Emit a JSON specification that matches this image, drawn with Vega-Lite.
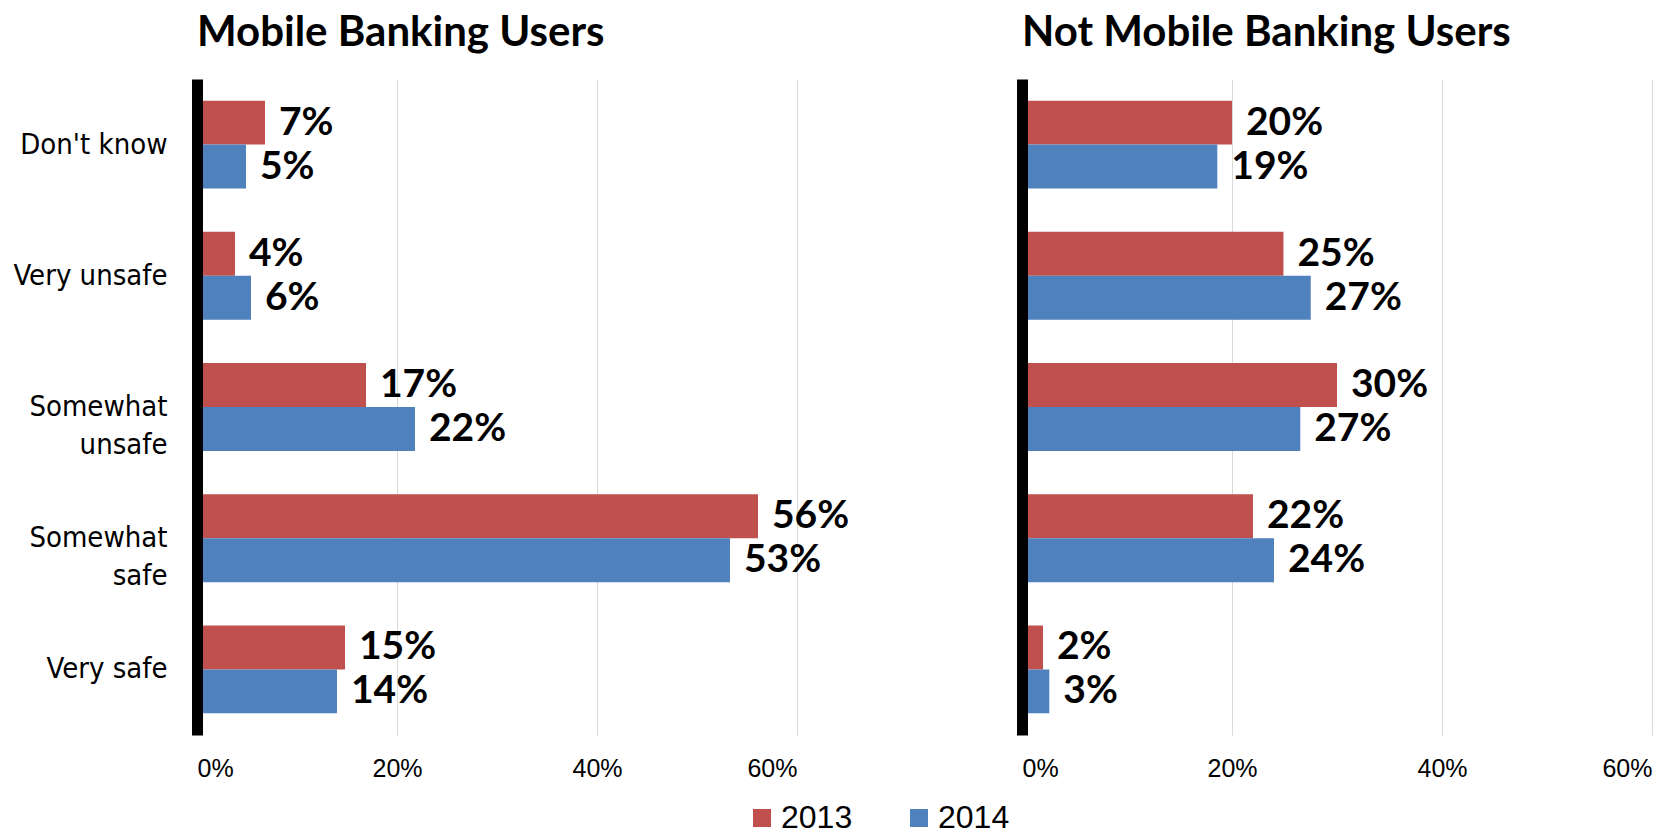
{
  "$schema": "https://vega.github.io/schema/vega-lite/v6.json",
  "background": "white",
  "padding": {"left": 13, "top": 12, "right": 3, "bottom": 0},
  "datasets": {
    "survey": [
      {"group": "Mobile Banking Users", "category": "Don't know", "year": "2013", "value": 0.068, "label": "7%"},
      {"group": "Mobile Banking Users", "category": "Don't know", "year": "2014", "value": 0.049, "label": "5%"},
      {"group": "Mobile Banking Users", "category": "Very unsafe", "year": "2013", "value": 0.038, "label": "4%"},
      {"group": "Mobile Banking Users", "category": "Very unsafe", "year": "2014", "value": 0.054, "label": "6%"},
      {"group": "Mobile Banking Users", "category": "Somewhat unsafe", "year": "2013", "value": 0.169, "label": "17%"},
      {"group": "Mobile Banking Users", "category": "Somewhat unsafe", "year": "2014", "value": 0.218, "label": "22%"},
      {"group": "Mobile Banking Users", "category": "Somewhat safe", "year": "2013", "value": 0.561, "label": "56%"},
      {"group": "Mobile Banking Users", "category": "Somewhat safe", "year": "2014", "value": 0.533, "label": "53%"},
      {"group": "Mobile Banking Users", "category": "Very safe", "year": "2013", "value": 0.148, "label": "15%"},
      {"group": "Mobile Banking Users", "category": "Very safe", "year": "2014", "value": 0.140, "label": "14%"},
      {"group": "Not Mobile Banking Users", "category": "Don't know", "year": "2013", "value": 0.200, "label": "20%"},
      {"group": "Not Mobile Banking Users", "category": "Don't know", "year": "2014", "value": 0.186, "label": "19%"},
      {"group": "Not Mobile Banking Users", "category": "Very unsafe", "year": "2013", "value": 0.249, "label": "25%"},
      {"group": "Not Mobile Banking Users", "category": "Very unsafe", "year": "2014", "value": 0.275, "label": "27%"},
      {"group": "Not Mobile Banking Users", "category": "Somewhat unsafe", "year": "2013", "value": 0.300, "label": "30%"},
      {"group": "Not Mobile Banking Users", "category": "Somewhat unsafe", "year": "2014", "value": 0.265, "label": "27%"},
      {"group": "Not Mobile Banking Users", "category": "Somewhat safe", "year": "2013", "value": 0.220, "label": "22%"},
      {"group": "Not Mobile Banking Users", "category": "Somewhat safe", "year": "2014", "value": 0.240, "label": "24%"},
      {"group": "Not Mobile Banking Users", "category": "Very safe", "year": "2013", "value": 0.020, "label": "2%"},
      {"group": "Not Mobile Banking Users", "category": "Very safe", "year": "2014", "value": 0.026, "label": "3%"}
    ]
  },
  "data": {"name": "survey"},
  "bounds": "flush",
  "spacing": 225,
  "hconcat": [
    {
      "title": {"text": "Mobile Banking Users"},
      "width": 600,
      "height": 656,
      "transform": [{"filter": "datum.group == 'Mobile Banking Users'"}],
      "encoding": {
        "y": {
          "field": "category", "type": "nominal",
          "sort": ["Don't know", "Very unsafe", "Somewhat unsafe", "Somewhat safe", "Very safe"],
          "scale": {"paddingInner": 0.33, "paddingOuter": 0.165},
          "title": null,
          "axis": {
            "labelExpr": "datum.label == 'Somewhat unsafe' ? ['Somewhat', 'unsafe'] : datum.label == 'Somewhat safe' ? ['Somewhat', 'safe'] : datum.label",
            "labelFont": "DejaVu Sans Condensed",
            "labelFontSize": 29,
            "labelLineHeight": 38,
            "labelPadding": 30,
            "labelColor": "#000000",
            "labelLimit": 300,
            "ticks": false,
            "tickSize": 0,
            "domain": true,
            "domainColor": "#000000",
            "domainWidth": 11,
            "zindex": 1
          }
        },
        "yOffset": {"field": "year", "type": "nominal", "sort": ["2013", "2014"]},
        "x": {
          "field": "value", "type": "quantitative",
          "scale": {"domain": [0, 0.6]},
          "title": null,
          "axis": {"values": [0, 0.2, 0.4, 0.6], "format": ".0%"}
        }
      },
      "layer": [
        {
          "mark": {"type": "bar"},
          "encoding": {
            "color": {
              "field": "year", "type": "nominal",
              "scale": {"domain": ["2013", "2014"], "range": ["#C0504D", "#4F81BD"]},
              "legend": {"title": null, "orient": "none", "legendX": 549, "legendY": 723}
            }
          }
        },
        {
          "mark": {"type": "text", "align": "left", "baseline": "middle", "dx": 14, "font": "Lato", "fontWeight": "bold", "fontSize": 39, "color": "#000000"},
          "encoding": {"text": {"field": "label"}}
        }
      ]
    },
    {
      "title": {"text": "Not Mobile Banking Users"},
      "width": 630,
      "height": 656,
      "transform": [{"filter": "datum.group == 'Not Mobile Banking Users'"}],
      "encoding": {
        "y": {
          "field": "category", "type": "nominal",
          "sort": ["Don't know", "Very unsafe", "Somewhat unsafe", "Somewhat safe", "Very safe"],
          "scale": {"paddingInner": 0.33, "paddingOuter": 0.165},
          "title": null,
          "axis": {
            "labels": false,
            "ticks": false,
            "tickSize": 0,
            "domain": true,
            "domainColor": "#000000",
            "domainWidth": 11,
            "zindex": 1
          }
        },
        "yOffset": {"field": "year", "type": "nominal", "sort": ["2013", "2014"]},
        "x": {
          "field": "value", "type": "quantitative",
          "scale": {"domain": [0, 0.6]},
          "title": null,
          "axis": {"values": [0, 0.2, 0.4, 0.6], "format": ".0%"}
        }
      },
      "layer": [
        {
          "mark": {"type": "bar"},
          "encoding": {
            "color": {
              "field": "year", "type": "nominal",
              "scale": {"domain": ["2013", "2014"], "range": ["#C0504D", "#4F81BD"]},
              "legend": {"title": null, "orient": "none", "legendX": 549, "legendY": 723}
            }
          }
        },
        {
          "mark": {"type": "text", "align": "left", "baseline": "middle", "dx": 14, "font": "Lato", "fontWeight": "bold", "fontSize": 39, "color": "#000000"},
          "encoding": {"text": {"field": "label"}}
        }
      ]
    }
  ],
  "config": {
    "view": {"stroke": null},
    "title": {"font": "Lato", "fontSize": 42, "fontWeight": "bold", "anchor": "start", "frame": "group", "baseline": "alphabetic", "offset": 24, "color": "#000000"},
    "axisX": {
      "grid": true, "gridColor": "#D9D9D9", "gridWidth": 1,
      "domain": false, "ticks": false, "tickSize": 0,
      "labelFont": "Liberation Sans", "labelFontSize": 25, "labelColor": "#000000",
      "labelPadding": 21
    },
    "legend": {
      "direction": "horizontal", "padding": 0,
      "symbolType": "square", "symbolSize": 324, "symbolStrokeWidth": 0,
      "labelFont": "Liberation Sans", "labelFontSize": 32, "labelColor": "#000000",
      "labelOffset": 3, "columnPadding": 50
    }
  }
}
